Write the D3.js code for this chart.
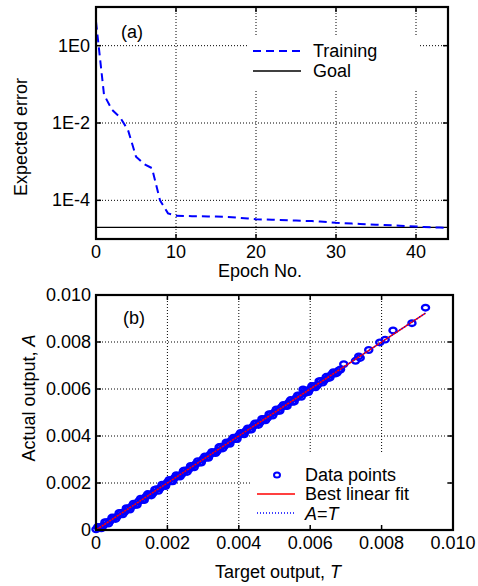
<!DOCTYPE html>
<meta charset="utf-8">
<html>
<head>
<title>Training error and regression</title>
<script src="https://d3js.org/d3.v7.min.js"></script>
<style>
body { margin: 0; background: #fff; }
svg text { font-family: "Liberation Sans", Arial, Helvetica, sans-serif; font-size: 18px; fill: #000; }
.grid line { stroke: #000; stroke-width: 1; stroke-dasharray: 1,2; }
</style>
</head>
<body>
<svg id="fig" width="478" height="586"></svg>
<script>
// ---- panel (a) data: training error per epoch
var epochs = [0,1,2,3,4,5,6,7,8,9,10,11,12,13,14,15,16,17,18,19,20,21,22,23,24,25,26,27,28,29,30,31,32,33,34,35,36,37,38,39,40,41,42,43,44];
var trainErr = [4.2,0.054,0.022,0.014,0.0066,0.00135,0.00087,0.00068,0.0001,0.000046,0.00004,
  0.0000395,0.000039,0.0000387,0.0000383,0.000038,0.0000375,0.0000365,0.0000352,0.000034,0.0000325,
  0.000032,0.0000315,0.000031,0.0000305,0.00003,0.0000295,0.000029,0.0000282,0.0000272,0.0000262,
  0.0000256,0.000025,0.0000245,0.000024,0.0000235,0.000023,0.0000225,0.000022,0.0000215,0.000021,
  0.0000205,0.00002,0.0000198,0.0000195];
var goalErr = 0.00002;
var errTicks = [1, 0.01, 0.0001];
var errTickLabels = ["1E0", "1E-2", "1E-4"];
var epochTicks = [0, 10, 20, 30, 40];

// ---- panel (b) data: network output vs target
var targetT = [0,0.0001,0.0002,0.0003,0.0004,0.0005,0.0006,0.0007,0.0008,0.0009,0.0010,0.0011,0.0012,0.0013,0.0014,0.0015,
  0.0016,0.0017,0.0018,0.0019,0.0020,0.0021,0.0022,0.0023,0.0024,0.0025,0.0026,0.0027,0.0028,0.0029,0.0030,0.0031,
  0.0032,0.0033,0.0034,0.0035,0.0036,0.0037,0.0038,0.0039,0.0040,0.0041,0.0042,0.0043,0.0044,0.0045,0.0046,0.0047,
  0.0048,0.0049,0.0050,0.0051,0.0052,0.0053,0.0054,0.0055,0.0056,0.0057,0.0058,0.00585,0.0059,0.0060,0.0061,0.0062,
  0.0063,0.0064,0.0065,0.0066,0.0067,0.0068,0.00694,0.00727,0.00736,0.0074,0.00764,0.00795,0.0081,0.00832,0.00885,0.00923];
var actualA = [0.00003,0.00012,0.00018,0.00033,0.00039,0.00052,0.00058,0.00073,0.00077,0.00092,0.00101,0.00107,0.00123,0.00128,0.00142,0.00149,
  0.00157,0.00174,0.00178,0.00191,0.00203,0.00207,0.00222,0.00229,0.00237,0.00253,0.00258,0.00272,0.00281,0.00287,0.00303,0.00308,
  0.00322,0.00329,0.00337,0.00354,0.00358,0.00371,0.00382,0.00387,0.00403,0.00408,0.00422,0.00427,0.00441,0.00453,0.00458,0.00472,
  0.00477,0.00493,0.00501,0.00507,0.00523,0.00528,0.00542,0.00546,0.00561,0.00573,0.00598,0.00582,0.00588,0.00601,0.00612,0.00616,
  0.00634,0.00638,0.00647,0.00662,0.00666,0.00679,0.00706,0.0072,0.00739,0.00732,0.00766,0.00798,0.0081,0.00849,0.0088,0.00946];
// second batch of samples, lying between the first ones
var targetT2 = [0.00005,0.00015,0.00025,0.00035,0.00045,0.00055,0.00065,0.00075,0.00085,0.00095,0.00105,0.00115,0.00125,0.00135,0.00145,0.00155,
  0.00165,0.00175,0.00185,0.00195,0.00205,0.00215,0.00225,0.00235,0.00245,0.00255,0.00265,0.00275,0.00285,0.00295,0.00305,0.00315,
  0.00325,0.00335,0.00345,0.00355,0.00365,0.00375,0.00385,0.00395,0.00405,0.00415,0.00425,0.00435,0.00445,0.00455,0.00465,0.00475,
  0.00485,0.00495,0.00505,0.00515,0.00525,0.00535,0.00545,0.00555,0.00565,0.00575,0.00585,0.00595,0.00605,0.00615,0.00625,0.00635,
  0.00645,0.00655,0.00665,0.00675,0.00685];
var actualA2 = [0.00013,0.00007,0.00033,0.00027,0.00053,0.00047,0.00073,0.00067,0.00093,0.00087,0.00112,0.00107,0.00133,0.00127,0.00153,0.00147,
  0.00172,0.00167,0.00193,0.00187,0.00213,0.00207,0.00233,0.00227,0.00252,0.00247,0.00273,0.00267,0.00293,0.00287,0.00313,0.00307,
  0.00332,0.00327,0.00353,0.00347,0.00373,0.00367,0.00393,0.00387,0.00413,0.00407,0.00432,0.00427,0.00453,0.00447,0.00473,0.00467,
  0.00493,0.00487,0.00513,0.00507,0.00532,0.00527,0.00553,0.00546,0.00573,0.00567,0.00593,0.00587,0.00613,0.00607,0.00633,0.00627,
  0.00652,0.00648,0.00672,0.00669,0.00683];
var fitSlope = 1.0, fitIntercept = 0.0;
var outTicks = [0, 0.002, 0.004, 0.006, 0.008, 0.010];
var outTickLabels = ["0", "0.002", "0.004", "0.006", "0.008", "0.010"];

var svg = d3.select("#fig");
var blue = "#0000ff";

function frame(g, x0, x1, y0, y1) {
  g.append("rect").attr("x", x0).attr("y", y0).attr("width", x1 - x0).attr("height", y1 - y0)
    .attr("fill", "none").attr("stroke", "#000").attr("stroke-width", 2.2);
}

// ================= panel (a) =================
var A = {l: 96, r: 448, t: 7, b: 239};
var xa = d3.scaleLinear().domain([0, 44]).range([A.l, A.r]);
var ya = d3.scaleLog().domain([1e-5, 10]).range([A.b, A.t]);
var ga = svg.append("g");

var gridA = ga.append("g").attr("class", "grid");
gridA.selectAll("line.v").data(epochTicks.slice(1)).enter().append("line")
  .attr("x1", xa).attr("x2", xa).attr("y1", A.t).attr("y2", A.b);
gridA.selectAll("line.h").data(errTicks).enter().append("line")
  .attr("x1", A.l).attr("x2", A.r).attr("y1", ya).attr("y2", ya);

// ticks inward on all sides
ga.selectAll("line.tb").data(epochTicks).enter().append("line")
  .attr("x1", xa).attr("x2", xa).attr("y1", A.b).attr("y2", A.b - 5).attr("stroke", "#000").attr("stroke-width", 1.5);
ga.selectAll("line.tt").data(epochTicks).enter().append("line")
  .attr("x1", xa).attr("x2", xa).attr("y1", A.t).attr("y2", A.t + 5).attr("stroke", "#000").attr("stroke-width", 1.5);
ga.selectAll("line.tl").data(errTicks).enter().append("line")
  .attr("x1", A.l).attr("x2", A.l + 5).attr("y1", ya).attr("y2", ya).attr("stroke", "#000").attr("stroke-width", 1.5);
ga.selectAll("line.tr").data(errTicks).enter().append("line")
  .attr("x1", A.r).attr("x2", A.r - 5).attr("y1", ya).attr("y2", ya).attr("stroke", "#000").attr("stroke-width", 1.5);

// legend background
ga.append("rect").attr("x", 248).attr("y", 35).attr("width", 172).attr("height", 55).attr("fill", "#fff");

ga.append("line").attr("x1", A.l).attr("x2", A.r).attr("y1", ya(goalErr)).attr("y2", ya(goalErr))
  .attr("stroke", "#000").attr("stroke-width", 1.3);

var lineA = d3.line().x(function (d, i) { return xa(epochs[i]); }).y(function (d) { return ya(d); });
ga.append("path").datum(trainErr).attr("d", lineA).attr("fill", "none")
  .attr("stroke", blue).attr("stroke-width", 2).attr("stroke-dasharray", "8,5");

frame(ga, A.l, A.r, A.t, A.b);

ga.selectAll("text.xt").data(epochTicks).enter().append("text")
  .attr("x", xa).attr("y", 258).attr("text-anchor", "middle").text(function (d) { return d; });
ga.selectAll("text.yt").data(errTicks).enter().append("text")
  .attr("x", 90).attr("y", function (d) { return ya(d) + 6; }).attr("text-anchor", "end")
  .text(function (d, i) { return errTickLabels[i]; });
ga.append("text").attr("x", 260).attr("y", 277).attr("text-anchor", "middle").text("Epoch No.");
ga.append("text").attr("transform", "translate(27,137) rotate(-90)").attr("text-anchor", "middle").text("Expected error");
ga.append("text").attr("x", 121).attr("y", 38).text("(a)");

// legend (a)
ga.append("line").attr("x1", 253).attr("x2", 301).attr("y1", 51).attr("y2", 51)
  .attr("stroke", blue).attr("stroke-width", 2).attr("stroke-dasharray", "8,5");
ga.append("line").attr("x1", 253).attr("x2", 301).attr("y1", 71).attr("y2", 71)
  .attr("stroke", "#000").attr("stroke-width", 1.3);
ga.append("text").attr("x", 313).attr("y", 57).text("Training");
ga.append("text").attr("x", 313).attr("y", 77).text("Goal");

// ================= panel (b) =================
var B = {l: 96, r: 453, t: 295, b: 530};
var xb = d3.scaleLinear().domain([0, 0.01]).range([B.l, B.r]);
var yb = d3.scaleLinear().domain([0, 0.01]).range([B.b, B.t]);
var gb = svg.append("g");

var gridB = gb.append("g").attr("class", "grid");
gridB.selectAll("line.v").data(outTicks.slice(1, -1)).enter().append("line")
  .attr("x1", xb).attr("x2", xb).attr("y1", B.t).attr("y2", B.b);
gridB.selectAll("line.h").data(outTicks.slice(1, -1)).enter().append("line")
  .attr("x1", B.l).attr("x2", B.r).attr("y1", yb).attr("y2", yb);

// legend background
gb.append("rect").attr("x", 250).attr("y", 453).attr("width", 195).attr("height", 74).attr("fill", "#fff");

gb.selectAll("line.tb").data(outTicks).enter().append("line")
  .attr("x1", xb).attr("x2", xb).attr("y1", B.b).attr("y2", B.b - 5).attr("stroke", "#000").attr("stroke-width", 1.5);
gb.selectAll("line.tt").data(outTicks).enter().append("line")
  .attr("x1", xb).attr("x2", xb).attr("y1", B.t).attr("y2", B.t + 5).attr("stroke", "#000").attr("stroke-width", 1.5);
gb.selectAll("line.tl").data(outTicks).enter().append("line")
  .attr("x1", B.l).attr("x2", B.l + 5).attr("y1", yb).attr("y2", yb).attr("stroke", "#000").attr("stroke-width", 1.5);
gb.selectAll("line.tr").data(outTicks).enter().append("line")
  .attr("x1", B.r).attr("x2", B.r - 5).attr("y1", yb).attr("y2", yb).attr("stroke", "#000").attr("stroke-width", 1.5);

var pts = targetT.map(function (t, i) { return [t, actualA[i]]; })
  .concat(targetT2.map(function (t, i) { return [t, actualA2[i]]; }));
gb.selectAll("ellipse.pt").data(pts).enter().append("ellipse")
  .attr("cx", function (d) { return xb(d[0]); })
  .attr("cy", function (d) { return yb(d[1]); })
  .attr("rx", 3.6).attr("ry", 2.8)
  .attr("fill", "none").attr("stroke", blue).attr("stroke-width", 2.3);

var tMax = d3.max(targetT);
gb.append("line").attr("x1", xb(0)).attr("y1", yb(fitIntercept))
  .attr("x2", xb(tMax)).attr("y2", yb(fitIntercept + fitSlope * tMax))
  .attr("stroke", "#ff0000").attr("stroke-width", 1.5);
gb.append("line").attr("x1", xb(0)).attr("y1", yb(0)).attr("x2", xb(tMax)).attr("y2", yb(tMax))
  .attr("stroke", blue).attr("stroke-width", 1.5).attr("stroke-dasharray", "1,2");

frame(gb, B.l, B.r, B.t, B.b);

gb.selectAll("text.xt").data(outTicks).enter().append("text")
  .attr("x", xb).attr("y", 549).attr("text-anchor", "middle").text(function (d, i) { return outTickLabels[i]; });
gb.selectAll("text.yt").data(outTicks).enter().append("text")
  .attr("x", 91).attr("y", function (d) { return yb(d) + 6; }).attr("text-anchor", "end")
  .text(function (d, i) { return outTickLabels[i]; });
var xl = gb.append("text").attr("x", 278).attr("y", 578).attr("text-anchor", "middle");
xl.append("tspan").text("Target output, ");
xl.append("tspan").attr("font-style", "italic").text("T");
var yl = gb.append("text").attr("transform", "translate(35,398) rotate(-90)").attr("text-anchor", "middle");
yl.append("tspan").text("Actual output, ");
yl.append("tspan").attr("font-style", "italic").text("A");
gb.append("text").attr("x", 123).attr("y", 324).text("(b)");

// legend (b)
gb.append("ellipse").attr("cx", 277).attr("cy", 475).attr("rx", 3).attr("ry", 2.5)
  .attr("fill", "none").attr("stroke", blue).attr("stroke-width", 2);
gb.append("line").attr("x1", 257).attr("x2", 295).attr("y1", 494).attr("y2", 494)
  .attr("stroke", "#ff0000").attr("stroke-width", 1.5);
gb.append("line").attr("x1", 257).attr("x2", 295).attr("y1", 513).attr("y2", 513)
  .attr("stroke", blue).attr("stroke-width", 1.5).attr("stroke-dasharray", "1,2");
gb.append("text").attr("x", 305).attr("y", 481).text("Data points");
gb.append("text").attr("x", 305).attr("y", 500).text("Best linear fit");
var lt = gb.append("text").attr("x", 305).attr("y", 520);
lt.append("tspan").attr("font-style", "italic").text("A");
lt.append("tspan").text("=");
lt.append("tspan").attr("font-style", "italic").text("T");
</script>
</body>
</html>
